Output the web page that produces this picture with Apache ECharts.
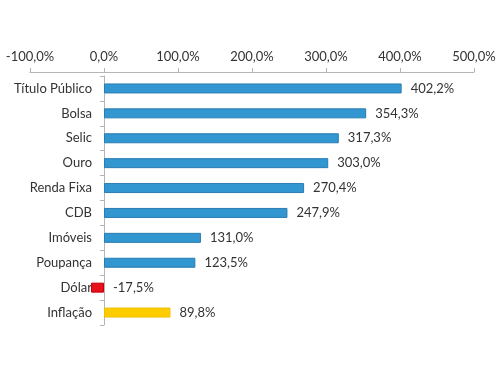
<!DOCTYPE html>
<html>
<head>
<meta charset="utf-8">
<script src="https://cdn.jsdelivr.net/npm/echarts@6/dist/echarts.min.js"></script>
<style>
  html, body { margin: 0; padding: 0; background: #fff; }
  #chart { width: 500px; height: 375px; }
</style>
</head>
<body>
<div id="chart"></div>
<script>
// dados do gráfico
const categorias = ['Título Público', 'Bolsa', 'Selic', 'Ouro', 'Renda Fixa', 'CDB', 'Imóveis', 'Poupança', 'Dólar', 'Inflação'];
const valores = [402.2, 354.3, 317.3, 303.0, 270.4, 247.9, 131.0, 123.5, -17.5, 89.8];
const cores = ['#3296d0', '#3296d0', '#3296d0', '#3296d0', '#3296d0', '#3296d0', '#3296d0', '#3296d0', '#e8101a', '#ffcc00'];
const bordas = ['#2a7db3', '#2a7db3', '#2a7db3', '#2a7db3', '#2a7db3', '#2a7db3', '#2a7db3', '#2a7db3', '#c00010', '#f0be00'];

function pct(v) {
  return v.toFixed(1).replace('.', ',') + '%';
}

const chart = echarts.init(document.getElementById('chart'));
const fonte = 'Lato, "Open Sans", sans-serif';

chart.setOption({
  animation: false,
  grid: { left: 30, right: 26, top: 76, bottom: 50, containLabel: false, outerBoundsMode: 'none' },
  xAxis: {
    type: 'value',
    position: 'top',
    offset: 4,
    min: -100,
    max: 500,
    interval: 100,
    axisLine: { show: true, lineStyle: { color: '#b5b5b5' } },
    axisTick: { show: true, length: 4, lineStyle: { color: '#b5b5b5' } },
    splitLine: { show: false },
    axisLabel: {
      color: '#333',
      fontSize: 13,
      fontFamily: fonte,
      margin: 9,
      formatter: function (v) { return pct(v); }
    }
  },
  yAxis: {
    type: 'category',
    inverse: true,
    data: categorias,
    axisLine: { show: true, onZero: true, lineStyle: { color: '#b5b5b5' } },
    axisTick: { show: true, length: 4, lineStyle: { color: '#b5b5b5' } },
    axisLabel: { color: '#333', fontSize: 13, fontFamily: fonte, margin: -62 }
  },
  series: [{
    type: 'bar',
    barWidth: 10,
    data: valores.map(function (v, i) {
      return { value: v, itemStyle: { color: cores[i], borderColor: bordas[i], borderWidth: 1 } };
    }),
    label: {
      show: true,
      position: 'right',
      distance: 9,
      color: '#333',
      fontSize: 13,
      fontFamily: fonte,
      formatter: function (p) { return pct(p.value); }
    }
  }]
});
</script>
</body>
</html>
